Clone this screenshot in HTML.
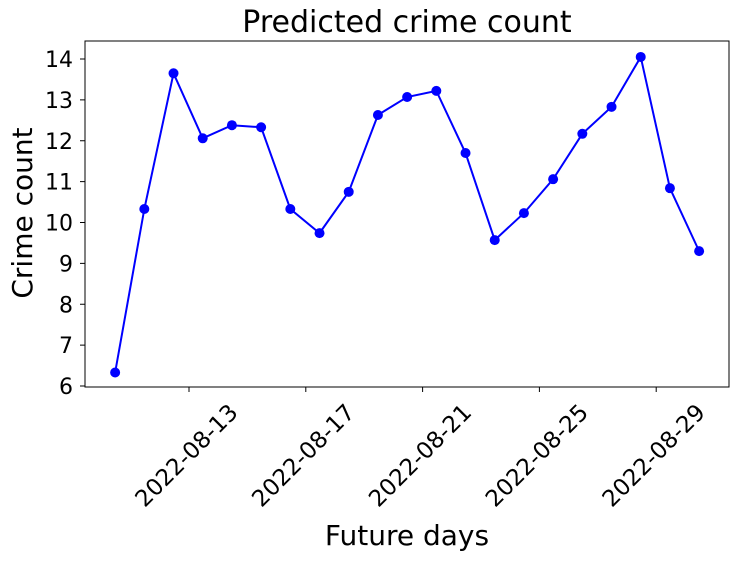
<!DOCTYPE html>
<html><head><meta charset="utf-8"><style>body{margin:0;background:#fff}svg{display:block;font-family:"DejaVu Sans","Liberation Sans",sans-serif}</style></head>
<body>
<svg id="chart" width="737" height="561"></svg>
<script>
const dates=["2022-08-10","2022-08-11","2022-08-12","2022-08-13","2022-08-14","2022-08-15","2022-08-16","2022-08-17","2022-08-18","2022-08-19","2022-08-20","2022-08-21","2022-08-22","2022-08-23","2022-08-24","2022-08-25","2022-08-26","2022-08-27","2022-08-28","2022-08-29","2022-08-30"];
const counts=[6.33,10.33,13.65,12.06,12.38,12.33,10.33,9.74,10.75,12.63,13.07,13.22,11.7,9.57,10.23,11.06,12.17,12.83,14.05,10.84,9.3];
const xTicks=["2022-08-13","2022-08-17","2022-08-21","2022-08-25","2022-08-29"];
const yTicks=[6,7,8,9,10,11,12,13,14];
const NS="http://www.w3.org/2000/svg";
const svg=document.getElementById('chart');
const L=85,R=729,T=41,B=387;
const base=Date.UTC(2022,7,13);
function dayOf(s){const p=s.split('-');return (Date.UTC(+p[0],+p[1]-1,+p[2])-base)/86400000;}
const timeOffset=0.47;
function xs(d){return 189+d*29.2;}
function ys(v){return 386-(v-6)*40.875;}
function el(t,a,p){const e=document.createElementNS(NS,t);for(const k in a)e.setAttribute(k,a[k]);(p||svg).appendChild(e);return e;}
const frame=el('rect',{x:L,y:T,width:R-L,height:B-T,fill:'none',stroke:'#000','stroke-width':1});


yTicks.forEach(v=>{const y=ys(v);
 const tk=el('line',{x1:L-5,x2:L,y1:y,y2:y,stroke:'#000'});
 
 
 const t=el('text',{x:L-12,y:y+8,'text-anchor':'end','font-size':22});t.textContent=v;
 
 
});
xTicks.forEach(s=>{const x=xs(dayOf(s));
 const tk=el('line',{x1:x,x2:x,y1:B,y2:B+5,stroke:'#000'});
 
 
 const cx=x+3,cy=461;
 const t=el('text',{x:cx,y:cy,'text-anchor':'middle','font-size':23,transform:`rotate(-45 ${cx} ${cy})`});
 t.textContent=s;
 
 
});
const pts=dates.map((d,i)=>[xs(dayOf(d)+timeOffset),ys(counts[i])]);
const line=el('polyline',{points:pts.map(p=>p.join(',')).join(' '),fill:'none',stroke:'#0000ff','stroke-width':2});


pts.forEach(p=>{const c=el('circle',{cx:p[0],cy:p[1],r:5,fill:'#0000ff'});
 
 
});
const title=el('text',{x:407,y:32,'text-anchor':'middle','font-size':30});title.textContent='Predicted crime count';


const xl=el('text',{x:407,y:545,'text-anchor':'middle','font-size':28});xl.textContent='Future days';


const yl=el('text',{x:0,y:0,'text-anchor':'middle','font-size':28,transform:'translate(32 213) rotate(-90)'});yl.textContent='Crime count';


</script>
</body></html>
